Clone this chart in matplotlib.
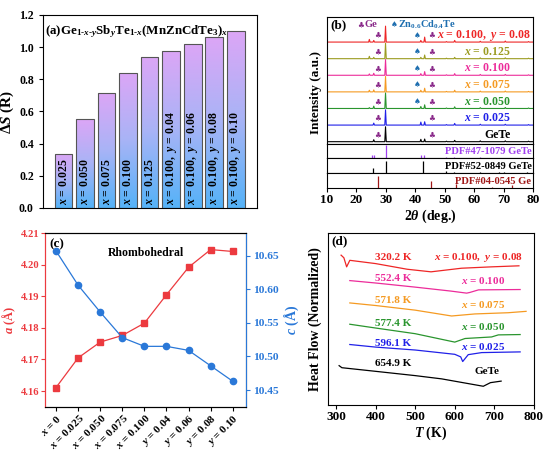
import numpy as np
import matplotlib
matplotlib.use('Agg')
import matplotlib.pyplot as plt
from matplotlib.colors import LinearSegmentedColormap

plt.rcParams['font.family'] = ['Liberation Serif', 'DejaVu Sans']
plt.rcParams['font.weight'] = 'bold'
plt.rcParams['axes.labelweight'] = 'bold'
plt.rcParams['mathtext.fontset'] = 'custom'
plt.rcParams['mathtext.rm'] = 'Liberation Serif:bold'
plt.rcParams['mathtext.it'] = 'Liberation Serif:italic:bold'
plt.rcParams['mathtext.bf'] = 'Liberation Serif:bold'
plt.rcParams['axes.linewidth'] = 0.8

# ---------------- (a) configurational entropy ----------------
bar_labels = ['$x$ = 0.025', '$x$ = 0.050', '$x$ = 0.075', '$x$ = 0.100', '$x$ = 0.125',
              '$x$ = 0.100,  $y$ = 0.04', '$x$ = 0.100,  $y$ = 0.06',
              '$x$ = 0.100,  $y$ = 0.08', '$x$ = 0.100,  $y$ = 0.10']
delta_s = [0.337, 0.552, 0.712, 0.840, 0.941, 0.977, 1.022, 1.063, 1.100]

# ---------------- (b) XRD ----------------
xrd_labels = ['GeTe', '$x$ = 0.025', '$x$ = 0.050', '$x$ = 0.075', '$x$ = 0.100',
              '$x$ = 0.125', '$x$ = 0.100,  $y$ = 0.08']
xrd_colors = ['black', '#2020e8', '#2a952e', '#f59a22', '#ec2c9a', '#9c9c22', '#ee2626']
peak_pos = [24.4, 25.9, 29.9, 41.9, 43.2, 50.6, 53.4, 62.1, 70.6, 78.5]
peak_h = [
    [0.00, 0.12, 0.90, 0.14, 0.16, 0.03, 0.08, 0.05, 0.05, 0.03],
    [0.00, 0.12, 0.92, 0.18, 0.20, 0.03, 0.10, 0.05, 0.05, 0.03],
    [0.05, 0.14, 0.94, 0.12, 0.22, 0.03, 0.10, 0.05, 0.06, 0.03],
    [0.10, 0.12, 0.93, 0.10, 0.22, 0.03, 0.10, 0.05, 0.05, 0.03],
    [0.08, 0.12, 0.95, 0.10, 0.22, 0.03, 0.10, 0.05, 0.05, 0.03],
    [0.14, 0.08, 0.94, 0.08, 0.22, 0.03, 0.08, 0.05, 0.05, 0.03],
    [0.16, 0.10, 0.96, 0.10, 0.30, 0.03, 0.10, 0.05, 0.06, 0.03],
]
has_znte = [False, False, True, True, True, True, True]
ge_marks = [27.3, 45.5]
znte_mark = 40.6

pdf_names = ['PDF#47-1079 GeTe', 'PDF#52-0849 GeTe', 'PDF#04-0545 Ge']
pdf_colors = ['#a040f0', 'black', '#a01818']
pdf_pos = [
    [25.3, 25.9, 29.9, 42.0, 43.1, 50.5, 53.0, 62.0],
    [25.7, 29.9, 42.8, 50.5, 53.2, 62.0, 68.5, 70.3, 78.0],
    [27.3, 45.3, 53.7, 66.0, 72.8],
]
pdf_h = [
    [0.20, 0.20, 1.00, 0.25, 0.25, 0.08, 0.08, 0.05],
    [0.35, 0.85, 0.85, 0.12, 0.10, 0.08, 0.06, 0.08, 0.10],
    [0.90, 0.55, 0.30, 0.10, 0.20],
]

# ---------------- (c) lattice parameters ----------------
comp_labels = ['$x$ = 0', '$x$ = 0.025', '$x$ = 0.050', '$x$ = 0.075', '$x$ = 0.100',
               '$y$ = 0.04', '$y$ = 0.06', '$y$ = 0.08', '$y$ = 0.10']
lat_a = [4.1611, 4.1705, 4.1755, 4.1776, 4.1815, 4.1905, 4.1992, 4.2048, 4.2042]
lat_c = [10.657, 10.606, 10.566, 10.528, 10.515, 10.515, 10.509, 10.486, 10.463]

# ---------------- (d) DSC ----------------
dsc_T = [
    [308, 315, 400, 500, 567, 672, 690, 717],
    [335, 400, 500, 600, 615, 620, 634, 668, 765],
    [335, 400, 500, 600, 626, 693, 710, 765],
    [335, 400, 500, 592, 651, 735, 780],
    [335, 400, 500, 590, 630, 638, 660, 765],
    [313, 320, 327, 335, 400, 480, 540, 617, 693, 762],
]
dsc_hf = [
    [2.29, 2.17, 1.96, 1.71, 1.52, 1.09, 1.30, 1.39],
    [3.52, 3.37, 3.20, 2.95, 2.80, 2.53, 2.93, 3.05, 3.09],
    [4.70, 4.48, 4.15, 3.66, 3.87, 3.96, 4.08, 4.10],
    [5.94, 5.79, 5.52, 5.18, 5.30, 5.37, 5.45],
    [7.24, 7.10, 6.86, 6.63, 6.51, 6.55, 6.70, 6.72],
    [8.72, 8.57, 8.04, 8.42, 8.23, 7.90, 7.75, 7.96, 8.04, 8.10],
]
dsc_colors = ['black', '#2020e8', '#2a952e', '#f59a22', '#ec2c9a', '#ee2626']
dsc_temps = ['654.9 K', '596.1 K', '577.4 K', '571.8 K', '552.4 K', '320.2 K']
dsc_labels = ['GeTe', '$x$ = 0.025', '$x$ = 0.050', '$x$ = 0.075', '$x$ = 0.100',
              '$x$ = 0.100,  $y$ = 0.08']

fig = plt.figure(figsize=(5.5, 4.51), dpi=100)

# ===== (a) =====
ax_a = fig.add_axes([0.078, 0.539, 0.389, 0.428])
xa = np.arange(len(delta_s))
bars = ax_a.bar(xa, delta_s, width=0.82, color='none', edgecolor='#555555', linewidth=0.8, zorder=3)
grad_cmap = LinearSegmentedColormap.from_list('bar', ['#55b2f8', '#a8b4f6', '#dca6f6'])
grad = np.linspace(0, 1, 128).reshape(-1, 1)
for b in bars:
    im = ax_a.imshow(grad, cmap=grad_cmap, origin='lower', aspect='auto', zorder=2,
                     extent=[b.get_x(), b.get_x() + b.get_width(), 0, b.get_height()])
    im.set_clip_path(b)
for i, lab in enumerate(bar_labels):
    ax_a.text(i, 0.02, lab, rotation=90, ha='center', va='bottom', fontsize=8.5, zorder=4)
ax_a.set_xlim(-0.96, 8.98)
ax_a.set_ylim(0, 1.2)
ax_a.set_xticks([])
ax_a.set_yticks(np.arange(0, 1.21, 0.2))
ax_a.set_yticklabels([f'{v:.1f}' for v in np.arange(0, 1.21, 0.2)])
ax_a.tick_params(axis='y', labelsize=8.5, direction='out', length=3)
ax_a.set_ylabel('Δ$S$ (R)', fontsize=11, labelpad=2)
ax_a.text(0.01, 0.955,
          '(a)Ge$_{1\\text{-}x\\text{-}y}$Sb$_y$Te$_{1\\text{-}x}$(MnZnCdTe$_3$)$_x$',
          transform=ax_a.transAxes, fontsize=9.4, va='top')

# ===== (b) =====
ax_b = fig.add_axes([0.5945, 0.6807, 0.3745, 0.2816])
base0 = 0.14
for i, (hs, col, lab) in enumerate(zip(peak_h, xrd_colors, xrd_labels)):
    off = base0 + i
    xs, ys = [10], [0]
    for p, h in zip(peak_pos, hs):
        xs += [p - 0.25, p, p + 0.25]
        ys += [0, h, 0]
    xs.append(80)
    ys.append(0)
    ax_b.plot(xs, np.array(ys) + off, color=col, lw=0.8)
    for m in ge_marks:
        ax_b.text(m, off + 0.42, '♣', color='#8a2a8a', fontsize=5.5, ha='center', va='center',
                  family='DejaVu Sans')
    if has_znte[i]:
        ax_b.text(znte_mark, off + 0.42, '♠', color='#1f6fb0', fontsize=5.5, ha='center',
                  va='center', family='DejaVu Sans')
    xr = 79.2 if i == len(xrd_labels) - 1 else 72.5
    ax_b.text(xr, off + 0.42, lab, color=col, fontsize=8.5, ha='right', va='center')
ax_b.text(21.5, 7.17, '♣', color='#8a2a8a', fontsize=5.5, ha='center', va='center', family='DejaVu Sans')
ax_b.text(22.6, 7.17, 'Ge', color='#8a2a8a', fontsize=7.5, ha='left', va='center')
ax_b.text(33.0, 7.17, '♠', color='#1f6fb0', fontsize=5.5, ha='center', va='center', family='DejaVu Sans')
ax_b.text(34.1, 7.17, 'Zn$_{0.6}$Cd$_{0.4}$Te', color='#1f6fb0', fontsize=7.5, ha='left', va='center')
ax_b.text(11.0, 7.17, '(b)', fontsize=9.5, ha='left', va='center')
ax_b.set_xlim(10, 80)
ax_b.set_ylim(0, 7.65)
ax_b.set_xticks([])
ax_b.set_yticks([])

pdf_rects = [[0.5945, 0.6497, 0.3745, 0.031],
             [0.5945, 0.6164, 0.3745, 0.0333],
             [0.5945, 0.5831, 0.3745, 0.0333]]
for k, rect in enumerate(pdf_rects):
    axp = fig.add_axes(rect)
    axp.vlines(pdf_pos[k], 0, pdf_h[k], color=pdf_colors[k], lw=0.9)
    axp.text(79.5, 0.5, pdf_names[k], color=pdf_colors[k], fontsize=7.6, ha='right', va='center')
    axp.set_xlim(10, 80)
    axp.set_ylim(0, 1.1)
    axp.set_yticks([])
    if k < 2:
        axp.set_xticks([])
    else:
        axp.set_xticks(np.arange(10, 81, 10))
        axp.tick_params(axis='x', labelsize=9.5, direction='out', length=3, pad=1.5)
        axp.set_xlabel('2$\\theta$ (deg.)', fontsize=10, labelpad=1)
fig.text(0.574, 0.795, 'Intensity (a.u.)', rotation=90, ha='center', va='center', fontsize=9.5)

# ===== (c) =====
red_c = '#ec3a3f'
blue_c = '#2a78d8'
ax_c = fig.add_axes([0.0818, 0.098, 0.3655, 0.385])
xc = np.arange(len(lat_a))
ax_c.plot(xc, lat_a, color=red_c, lw=0.9, marker='s', ms=4.5)
ax_c.set_xlim(-0.5, 8.6)
ax_c.set_ylim(4.155, 4.21)
ax_c.set_yticks([4.16, 4.17, 4.18, 4.19, 4.20, 4.21])
ax_c.set_yticklabels(['4.16', '4.17', '4.18', '4.19', '4.20', '4.21'])
ax_c.set_xticks(xc)
ax_c.set_xticklabels(comp_labels, rotation=45, ha='right', rotation_mode='anchor')
ax_c.tick_params(axis='x', labelsize=8, direction='out', length=3, pad=1)
ax_c.tick_params(axis='y', labelsize=7.6, colors=red_c, direction='out', length=3, pad=1)
ax_c.spines['left'].set_color(red_c)
ax_c.set_ylabel('$a$ (Å)', color=red_c, fontsize=9)
ax_c.yaxis.set_label_coords(-0.135, 0.5)
ax_c2 = ax_c.twinx()
ax_c2.plot(xc, lat_c, color=blue_c, lw=0.9, marker='o', ms=4.5)
ax_c2.set_ylim(10.425, 10.6835)
ax_c2.set_yticks([10.45, 10.50, 10.55, 10.60, 10.65])
ax_c2.set_yticklabels(['10.45', '10.50', '10.55', '10.60', '10.65'])
ax_c2.tick_params(axis='y', labelsize=8.2, colors=blue_c, direction='out', length=3, pad=2)
ax_c2.spines['right'].set_color(blue_c)
ax_c2.spines['left'].set_color(red_c)
ax_c2.set_ylabel('$c$ (Å)', color=blue_c, fontsize=10, labelpad=3)
ax_c.text(0.02, 0.97, '(c)', transform=ax_c.transAxes, fontsize=9.5, va='top')
ax_c.text(0.5, 0.92, 'Rhombohedral', transform=ax_c.transAxes, fontsize=8.5, ha='center', va='top')

# ===== (d) =====
ax_d = fig.add_axes([0.5964, 0.102, 0.3745, 0.381])
for T, hf, col in zip(dsc_T, dsc_hf, dsc_colors):
    ax_d.plot(T, hf, color=col, lw=0.9)
temp_y = [2.44, 3.58, 4.76, 6.06, 7.37, 8.61]
lab_y = [1.94, 3.39, 4.57, 5.87, 7.24, 8.61]
for i in range(len(dsc_temps)):
    ax_d.text(445, temp_y[i], dsc_temps[i], color=dsc_colors[i], fontsize=8, ha='center', va='center')
    if i == 0:
        ax_d.text(680, lab_y[i], dsc_labels[i], color=dsc_colors[i], fontsize=8, ha='center', va='center')
    elif i == len(dsc_temps) - 1:
        ax_d.text(771, lab_y[i], dsc_labels[i], color=dsc_colors[i], fontsize=8, ha='right', va='center')
    else:
        ax_d.text(727, lab_y[i], dsc_labels[i], color=dsc_colors[i], fontsize=8, ha='right', va='center')
ax_d.text(0.015, 0.985, '(d)', transform=ax_d.transAxes, fontsize=9.5, va='top')
ax_d.set_xlim(280, 800)
ax_d.set_ylim(0, 10)
ax_d.set_yticks([])
ax_d.set_xticks(np.arange(300, 801, 100))
ax_d.tick_params(axis='x', labelsize=9.5, direction='out', length=3, pad=1.5)
ax_d.set_xlabel('$T$ (K)', fontsize=10, labelpad=1)
ax_d.set_ylabel('Heat Flow (Normalized)', fontsize=10, labelpad=4)

fig.savefig('out.png', dpi=100)
